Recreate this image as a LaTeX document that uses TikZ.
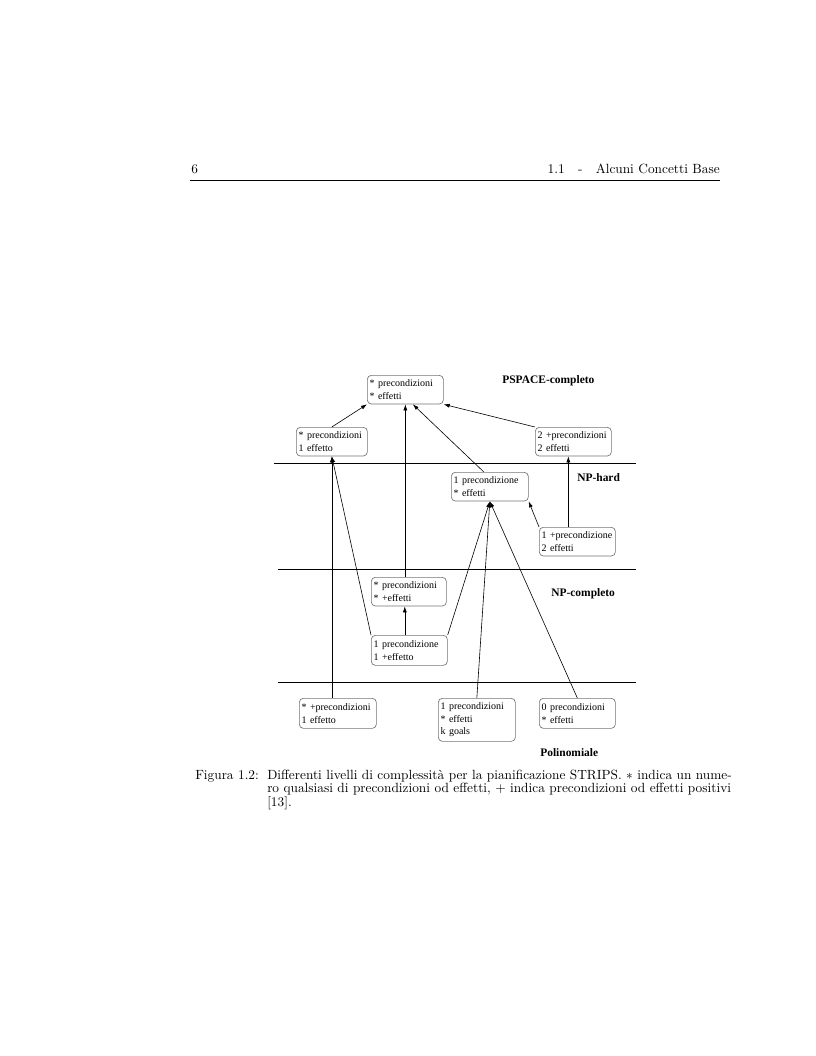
\documentclass[tikz,border=0pt]{standalone}
\usepackage{fontspec}
\usepackage{tikz}
\usetikzlibrary{arrows.meta}
\newfontfamily\figfont{Liberation Serif}

\begin{document}
\begin{tikzpicture}[x=0.75pt,y=-0.75pt,>={Latex[length=4.5pt,width=3pt]},
    stato/.style={draw=black!55, line width=0.5pt, rounded corners=3pt, anchor=north west,
        inner xsep=1.75pt, inner ysep=0pt, text width=53.5pt, minimum height=21.5pt,
        align=left, execute at begin node=\hyphenpenalty10000\relax,
        font=\figfont\fontsize{7.5}{9.5}\selectfont},
    classe/.style={anchor=west, inner sep=0pt, font=\figfont\bfseries\fontsize{8.6}{10}\selectfont},
    livello/.style={line width=0.5pt},
    freccia/.style={->, line width=0.45pt},
    pagina/.style={inner sep=0pt, font=\fontsize{10}{10.2}\selectfont}]
    \useasboundingbox (0,0) rectangle (816,1056);

    % intestazione
    \node[pagina, anchor=base west] (numpag) at (191,173) {6};
    \node[pagina, anchor=base east] (testata) at (720,173) {1.1\quad-\quad Alcuni Concetti Base};
    \draw[line width=0.6pt] (190,180) -- (720,180);

    % livelli
    \draw[livello] (274,463) -- (636,463);
    \draw[livello] (278,569) -- (636,569);
    \draw[livello] (278,682) -- (636,682);
    \node[classe] (lpspace) at (502,381) {PSPACE-completo};
    \node[classe] (lhard) at (577,478) {NP-hard};
    \node[classe] (lcompl) at (551,594) {NP-completo};
    \node[classe] (lpoli) at (540,753) {Polinomiale};

    % stati
    \node[stato] (pspace) at (367,375) {* precondizioni\\{*} effetti};
    \node[stato, text width=49.75pt] (hardA) at (296,427) {* precondizioni\\1 effetto};
    \node[stato] (hardB) at (535,427) {2 +precondizioni\\2 effetti};
    \node[stato, text width=54.25pt] (hardC) at (451,472) {1 precondizione\\{*} effetti};
    \node[stato] (hardD) at (539,527) {1 +precondizione\\2 effetti};
    \node[stato, text width=52.75pt] (compA) at (371,577) {* precondizioni\\{*} +effetti};
    \node[stato, minimum height=22.5pt] (compB) at (371,635) {1 precondizione\\1 +effetto};
    \node[stato, text width=54.25pt, minimum height=22.5pt] (polyA) at (299,698) {* +precondizioni\\1 effetto};
    \node[stato, text width=54.25pt, minimum height=32.25pt] (polyB) at (438,698) {1 precondizioni\\{*} effetti\\k goals};
    \node[stato, minimum height=22.5pt] (polyC) at (539,698) {0 precondizioni\\{*} effetti};

    % riduzioni
    \draw[freccia] (hardA.north) -- (pspace.south west);
    \draw[freccia] (pspace.south |- compA.north) -- (pspace.south);
    \draw[freccia] ([xshift=-4.5pt]hardC.north) -- (pspace.-63);
    \draw[freccia] (hardB.north west) -- (pspace.south east);
    \draw[freccia] ([xshift=-6.75pt]hardD.north) -- ([xshift=-6.75pt]hardD.north |- hardB.south);
    \draw[freccia] (hardA.south |- polyA.north) -- (hardA.south);
    \draw[freccia] (compB.north west) -- (hardA.south);
    \draw[freccia] ([xshift=-3.4pt]compB.north) -- ([xshift=-3.4pt]compB.north |- compA.south);
    \draw[freccia] (compB.north east) -- (hardC.south);
    \draw[freccia] (polyB.north) -- (hardC.south);
    \draw[freccia] (polyC.north) -- (hardC.south);
    \draw[freccia] (hardD.north west) -- (hardC.south east);

    % didascalia
    \node[pagina, anchor=base west] (etichetta) at (195,779) {Figura 1.2:};
    \node[pagina, anchor=base west, text width=339.75pt, align=left] (didascalia) at (267,779)
        {\makebox[339.75pt][s]{Differenti livelli di complessità per la pianificazione STRIPS. $*$ indica un nume-}\\
        \makebox[339.75pt][s]{ro qualsiasi di precondizioni od effetti, $+$ indica precondizioni od effetti positivi}\\{}[13].};
\end{tikzpicture}
\end{document}
